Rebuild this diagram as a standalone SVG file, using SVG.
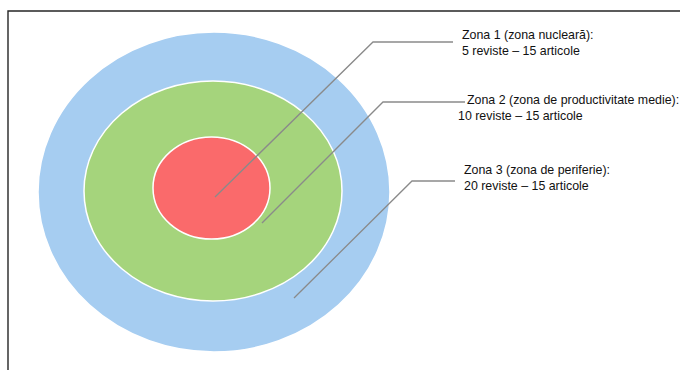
<svg xmlns="http://www.w3.org/2000/svg" width="680" height="370" viewBox="0 0 680 370">
<style>
.zone{stroke:#ffffff;stroke-width:1.5}
.lead{fill:none;stroke:#8a8a8a;stroke-width:1.3}
.lbl{font-family:"Liberation Sans",Arial,sans-serif;font-size:12.4px;fill:#111111}
</style>
<rect width="680" height="370" fill="#ffffff"/>
<path d="M8,370 V11 H680" fill="none" stroke="#262626" stroke-width="1.4"/>
<g id="zona3"><ellipse class="zone" cx="214" cy="192" rx="176" ry="160" fill="#a6cdf1"/></g>
<g id="zona2"><ellipse class="zone" cx="213" cy="191" rx="129" ry="110" fill="#a5d47c"/></g>
<g id="zona1"><ellipse class="zone" cx="211.5" cy="188" rx="58.5" ry="51" fill="#fa6a6b"/></g>
<g id="connectors">
<path class="lead" d="M215,197 L373,42 H453"/>
<path class="lead" d="M262,223 L383,102 H465"/>
<path class="lead" d="M294,298 L412,181 H455"/>
</g>
<g id="label1">
<text class="lbl" x="462" y="39">Zona 1 (zona nucleară):</text>
<text class="lbl" x="462" y="55">5 reviste – 15 articole</text>
</g>
<g id="label2">
<text class="lbl" x="467" y="104">Zona 2 (zona de productivitate medie):</text>
<text class="lbl" x="458" y="120">10 reviste – 15 articole</text>
</g>
<g id="label3">
<text class="lbl" x="464" y="174">Zona 3 (zona de periferie):</text>
<text class="lbl" x="464" y="190">20 reviste – 15 articole</text>
</g>
</svg>
